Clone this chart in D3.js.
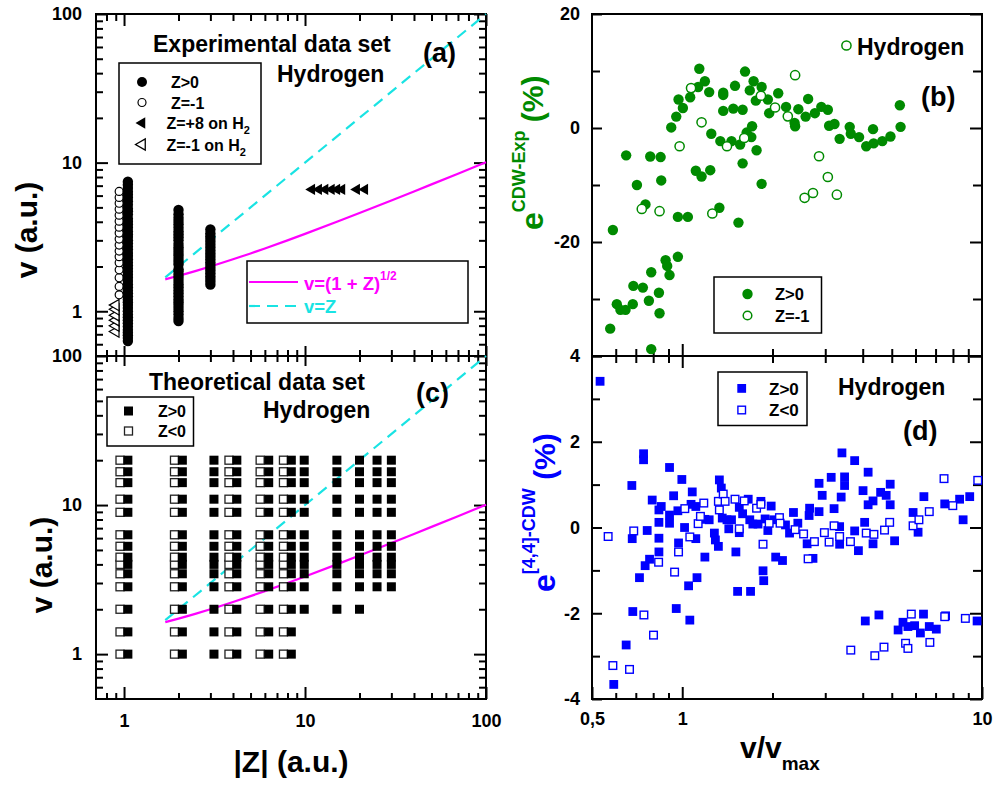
<!DOCTYPE html>
<html><head><meta charset="utf-8">
<script src="https://cdn.jsdelivr.net/npm/d3@7"></script>
<style>
body{margin:0;background:#fff}
svg{display:block}
text{font-family:"Liberation Sans",Arial,Helvetica,sans-serif;font-weight:bold}
</style>
</head><body><script>
// ---------- data ----------
// (a) experimental velocities v (a.u.) for each projectile charge
const expPosZ = [1.05, 2, 3];
const expPosV1 = [0.63,0.66,0.69,0.72,0.75,0.79,0.83,0.87,0.91,0.95,1.0,1.05,1.1,1.15,1.2,1.26,1.32,1.38,1.45,1.52,1.6,1.68,1.76,1.85,1.94,2.03,2.13,2.24,2.35,2.47,2.6,2.73,2.87,3.0,3.16,3.3,3.46,3.65,3.83,4.0,4.2,4.47,4.7,4.9,5.2,5.5,5.8,6.1,6.4,6.75,7.1,7.45];
const expPosV2 = [0.86,0.9,0.95,1.0,1.05,1.1,1.15,1.2,1.26,1.32,1.38,1.45,1.52,1.6,1.68,1.76,1.85,1.92,2.06,2.15,2.25,2.36,2.47,2.58,2.7,2.83,3.0,3.15,3.3,3.46,3.65,3.85,4.05,4.25,4.5,4.8];
const expPosV3 = [1.51,1.58,1.65,1.72,1.8,1.88,1.96,2.05,2.14,2.24,2.34,2.45,2.56,2.68,2.8,2.93,3.06,3.2,3.35,3.55];
const expNegZ = 0.94;
const expNegV = [1.29,1.47,1.68,1.9,2.12,2.33,2.54,2.79,3.06,3.36,3.68,4.04,4.43,4.86,5.33,5.83,6.4];
const h2NegZ = 0.9;
const h2NegV = [0.73,0.8,0.87,0.94,1.03,1.1];
const h2PosZ = [10.9,11.9,12.9,14.0,15.0,16.0,19.3,21.4];
const h2PosV = 6.6;

// reference curves v=(1+Z)^1/2 and v=Z
const curveZ = [1.69,2,2.5,3,4,5,6,8,10,15,20,30,40,50,70,100];
const curveV = [1.64,1.732,1.871,2.0,2.236,2.449,2.646,3.0,3.317,4.0,4.583,5.568,6.403,7.141,8.426,10.05];
const lineZ = [1.69,100];
const lineV = [1.69,100];

// (c) theoretical grid
const thRowsV = [1,1.41,2,2.83,3.46,4,4.47,5.29,6.32,8.94,10.95,14.14,16.73,20];
const thPosZ = [1.05,2.1,3.14,4.2,6.3,8.4,9.9,15,20,25,30];
const thPosMinV = [1,1,1,1,1,1,2,2,2,2.83,2.83];
const thNegZ = [0.95,1.9,3.8,5.65,7.6];

// (b) e^CDW-Exp (%) versus v/vmax
const bPosX = [0.575,0.587,0.605,0.622,0.647,0.650,0.684,0.687,0.706,0.739,0.754,0.774,0.782,0.788,0.788,0.836,0.840,0.847,0.851,0.880,0.891,0.907,0.919,0.955,0.967,0.967,0.972,1.005,1.044,1.063,1.11,1.13,1.14,1.16,1.19,1.23,1.24,1.25,1.33,1.34,1.37,1.37,1.37,1.46,1.48,1.50,1.54,1.56,1.59,1.59,1.62,1.64,1.68,1.70,1.71,1.73,1.76,1.77,1.84,1.84,1.93,1.95,2.09,2.22,2.37,2.38,2.44,2.58,2.63,2.77,2.91,3.06,3.09,3.22,3.35,3.62,3.65,3.89,4.11,4.33,4.35,4.65,4.95,5.32,5.35];
const bPosE = [-35.2,-17.9,-30.9,-31.9,-31.9,-4.8,-30.9,-27.7,-10.0,-28.0,-13.4,-30.3,-5.0,-25.3,-38.8,-28.9,-32.5,-5.1,-9.2,-23.2,-24.2,-25.8,0.1,2.0,-22.6,-15.6,5.0,3.5,-15.6,5.4,-7.5,7.2,10.4,-8.5,8.2,6.3,-7.4,-1.0,-14.0,-2.3,6.2,3.0,5.8,-2.3,3.4,7.4,-16.6,-2.9,3.2,-6.2,9.9,-0.8,6.6,-1.6,0.3,8.2,4.8,-3.9,7.2,-9.8,5.0,2.6,6.1,3.7,0.9,0.3,3.3,2.0,5.1,2.6,3.7,3.2,0.4,0.7,-1.9,0.2,-1.0,-1.6,-3.2,-0.2,-2.7,-2.3,-1.5,4.0,0.2];
const bNegX = [0.733,0.840,0.98,1.07,1.16,1.26,1.41,1.61,1.83,2.04,2.25,2.38,2.56,2.73,2.86,3.06,3.28,3.53];
const bNegE = [-14.2,-14.6,-3.2,7.0,1.0,-15.0,-3.2,-1.75,5.66,3.6,2.04,9.27,-12.25,-11.4,-4.96,-8.6,-11.7,14.47];

// (d) e^[4,4]-CDW (%) versus v/vmax
const dPosX = [0.532,0.591,0.650,0.679,0.681,0.684,0.720,0.743,0.743,0.752,0.764,0.778,0.794,0.836,0.836,0.836,0.836,0.851,0.907,0.907,0.907,0.936,0.955,0.967,0.972,0.997,1.018,1.05,1.06,1.07,1.08,1.11,1.11,1.12,1.19,1.19,1.23,1.28,1.29,1.32,1.33,1.35,1.36,1.41,1.43,1.46,1.51,1.53,1.55,1.55,1.59,1.66,1.68,1.69,1.72,1.79,1.83,1.86,1.87,1.89,1.93,1.98,2.02,2.05,2.16,2.21,2.28,2.35,2.43,2.61,2.65,2.66,2.73,2.86,2.86,2.93,3.14,3.21,3.35,3.41,3.48,3.48,3.39,3.35,3.76,3.76,3.87,4.01,4.06,4.17,4.17,4.33,4.33,4.59,4.79,4.94,4.94,5.11,5.89,6.12,6.40,7.51,8.42,8.65,9.10,4.08,4.53,5.25,5.45,5.66,5.96,6.23,6.38,6.67,7.04,7.56,9.63];
const dPosE = [3.41,-3.66,-2.74,0.98,-0.26,-1.96,-1.17,1.72,1.58,-0.89,-0.07,-0.74,0.64,0.41,0.12,-0.25,-0.57,0.49,1.40,0.29,0.10,0.74,-1.89,0.39,-0.36,1.12,0.0,-1.36,-2.16,0.54,0.83,0.49,-0.26,-1.17,-0.69,0.19,0.18,-0.13,-0.29,-0.44,1.11,0.92,0.22,0.18,-0.03,0.18,-0.57,-1.49,0.47,-0.12,0.32,0.66,0.18,-1.49,0.08,0.08,0.61,-1.01,-1.24,0.2,-0.07,0.5,0.18,-0.69,-0.77,0.06,-0.13,0.35,0.1,-0.38,0.28,0.45,-0.72,1.03,0.37,0.75,1.17,0.44,0.02,1.74,1.18,0.98,0.71,-0.39,1.56,-0.08,-0.54,0.86,0.12,1.29,0.53,0.62,-0.38,0.82,0.75,1.01,0.53,-0.31,0.35,-0.11,0.72,0.55,0.66,0.18,0.72,-2.18,-2.04,-2.39,-2.21,-2.31,-2.29,-2.46,-2.02,-2.31,-2.37,-2.06,-2.18];
const dNegX = [0.566,0.587,0.667,0.689,0.745,0.802,0.834,0.943,0.972,1.02,1.06,1.13,1.15,1.18,1.32,1.33,1.37,1.39,1.50,1.55,1.61,1.77,1.83,1.86,1.95,2.11,2.12,2.38,2.54,2.63,2.76,2.98,3.09,3.21,3.35,3.64,3.65,4.11,4.36,4.39,4.71,4.73,4.92,5.56,5.66,5.81,5.89,6.16,6.67,6.70,7.47,7.51,7.99,8.80,9.68];
const dNegE = [-0.21,-3.22,-3.31,-0.08,-2.04,-2.51,-0.81,-1.04,-0.57,0.44,-0.22,0.09,0.26,0.57,0.61,0.41,0.78,0.61,0.66,-0.03,0.62,0.45,0.54,-0.39,0.1,0.23,0.1,-0.05,-0.15,-0.73,-0.33,-0.12,-0.34,0.04,-0.21,-0.33,-2.86,-0.13,-0.16,-2.99,-2.79,-0.06,0.12,-2.7,-2.82,-2.02,0.04,0.18,0.37,-2.68,1.14,-2.08,0.51,-2.12,1.1];

// axis ticks
const zMajor = [1,10,100], zMinor = [0.8,0.9,2,3,4,5,6,7,8,9,20,30,40,50,60,70,80,90];
const vMajor = [1,10,100], vMinor = [0.6,0.7,0.8,0.9,2,3,4,5,6,7,8,9,20,30,40,50,60,70,80,90];
const rMajor = [0.5,1,10], rMinor = [0.6,0.7,0.8,0.9,2,3,4,5,6,7,8,9];
const rLabels = ["0,5","1","10"];
const eBMajor = [-40,-20,0,20], eBMinor = [-30,-10,10], eBLabels = ["","-20","0","20"];
const eDMajor = [-4,-2,0,2,4], eDMinor = [-3,-1,1,3], eDLabels = ["-4","-2","0","2","4"];

// ---------- drawing ----------
const GREEN = "#008a00", BLUE = "#0000ff", MAG = "#ff00ff", CYAN = "#19e3e3";
const svg = d3.select("body").append("svg").attr("width", 995).attr("height", 787);

const xZ = d3.scaleLog().domain([0.7, 100]).range([96, 486]);
const yA = d3.scaleLog().domain([0.5, 100]).range([356, 14]);
const yC = d3.scaleLog().domain([0.5, 100]).range([699, 356]);
const xR = d3.scaleLog().domain([0.5, 10]).range([592, 982]);
const yB = d3.scaleLinear().domain([-40, 20]).range([356, 14]);
const yD = d3.scaleLinear().domain([-4, 4]).range([699, 356]);

function ticks(gen, scale, pos, vals, size, opts = {}) {
  const g = svg.append("g").attr("transform", pos);
  const ax = gen(scale).tickValues(vals).tickSizeOuter(0).tickSizeInner(size)
    .tickPadding(opts.pad || 0)
    .tickFormat(opts.labels ? (d, i) => opts.labels[i] : () => "");
  g.call(ax);
  g.select(".domain").remove();
  g.selectAll(".tick line").attr("stroke", "#000").attr("stroke-width", 2);
  if (opts.cross) {
    const horiz = (gen === d3.axisBottom || gen === d3.axisTop);
    g.selectAll(".tick line").attr(horiz ? "y1" : "x1", -size).attr(horiz ? "y2" : "x2", size);
  }
  g.selectAll(".tick text").attr("fill", "#000").style("font-size", "18px")
    .style("font-family", '"Liberation Sans",Arial,sans-serif').style("font-weight", "bold");
  return g;
}

// ---- panel frames ----
function frame(x0, x1, y0, y1) {
  svg.append("rect").attr("x", x0).attr("y", y0).attr("width", x1 - x0).attr("height", y1 - y0)
    .attr("fill", "none").attr("stroke", "#000").attr("stroke-width", 2);
}

// ---- panel (a) and (c) axes ----
ticks(d3.axisLeft, yA, "translate(96,0)", vMajor, -12, {labels: ["1","10","100"], pad: 14});
ticks(d3.axisLeft, yA, "translate(96,0)", vMinor, -7);
ticks(d3.axisRight, yA, "translate(486,0)", vMajor, -12);
ticks(d3.axisRight, yA, "translate(486,0)", vMinor, -7);
ticks(d3.axisTop, xZ, "translate(0,14)", zMajor, -12);
ticks(d3.axisTop, xZ, "translate(0,14)", zMinor, -7);
ticks(d3.axisBottom, xZ, "translate(0,356)", zMajor, 10, {cross: true});
ticks(d3.axisBottom, xZ, "translate(0,356)", zMinor, 6, {cross: true});
ticks(d3.axisLeft, yC, "translate(96,0)", vMajor, -12, {labels: ["1","10","100"], pad: 14});
ticks(d3.axisLeft, yC, "translate(96,0)", vMinor, -7);
ticks(d3.axisRight, yC, "translate(486,0)", vMajor, -12);
ticks(d3.axisRight, yC, "translate(486,0)", vMinor, -7);
ticks(d3.axisBottom, xZ, "translate(0,699)", zMajor, -12, {labels: ["1","10","100"], pad: 15});
ticks(d3.axisBottom, xZ, "translate(0,699)", zMinor, -6);

// ---- panel (b) and (d) axes ----
ticks(d3.axisLeft, yB, "translate(592,0)", eBMajor, -10, {labels: eBLabels, pad: 12});
ticks(d3.axisLeft, yB, "translate(592,0)", eBMinor, -8);
ticks(d3.axisRight, yB, "translate(982,0)", eBMajor, -12);
ticks(d3.axisRight, yB, "translate(982,0)", eBMinor, -9);
ticks(d3.axisBottom, xR, "translate(0,356)", [1], 12, {cross: true});
ticks(d3.axisBottom, xR, "translate(0,356)", rMinor, 7, {cross: true});
ticks(d3.axisLeft, yD, "translate(592,0)", eDMajor, -10, {labels: eDLabels, pad: 12});
ticks(d3.axisLeft, yD, "translate(592,0)", eDMinor, -8);
ticks(d3.axisRight, yD, "translate(982,0)", eDMajor, -12);
ticks(d3.axisRight, yD, "translate(982,0)", eDMinor, -9);
ticks(d3.axisBottom, xR, "translate(0,699)", rMajor, -12, {labels: rLabels, pad: 13});
ticks(d3.axisBottom, xR, "translate(0,699)", rMinor, -6);

frame(96, 486, 14, 356);
frame(96, 486, 356, 699);
frame(592, 982, 14, 356);
frame(592, 982, 356, 699);

// ---- reference curves in (a) and (c) ----
function curves(yS) {
  const lineS = d3.line().x((d, i) => xZ(lineZ[i])).y((d, i) => yS(lineV[i]));
  svg.append("path").attr("d", lineS(lineZ)).attr("fill", "none").attr("stroke", CYAN)
    .attr("stroke-width", 2.2).attr("stroke-dasharray", "11,7");
  const curveS = d3.line().x((d, i) => xZ(curveZ[i])).y((d, i) => yS(curveV[i])).curve(d3.curveMonotoneX);
  svg.append("path").attr("d", curveS(curveZ)).attr("fill", "none").attr("stroke", MAG).attr("stroke-width", 2.2);
}

// ---- panel (a) marks ----
curves(yA);
const triLeft = d3.symbol().type(d3.symbolTriangle).size(55);
svg.append("g").selectAll("path").data(h2NegV).join("path")
  .attr("d", triLeft).attr("transform", d => `translate(${xZ(h2NegZ)},${yA(d)}) rotate(-90)`)
  .attr("fill", "#fff").attr("stroke", "#000").attr("stroke-width", 1.2);
svg.append("g").selectAll("circle").data(expNegV).join("circle")
  .attr("cx", xZ(expNegZ)).attr("cy", d => yA(d)).attr("r", 4)
  .attr("fill", "#fff").attr("stroke", "#000").attr("stroke-width", 1.2);
[expPosV1, expPosV2, expPosV3].forEach((vs, k) => {
  svg.append("g").selectAll("circle").data(vs).join("circle")
    .attr("cx", xZ(expPosZ[k])).attr("cy", d => yA(d)).attr("r", 5.2).attr("fill", "#000");
});
svg.append("g").selectAll("path").data(h2PosZ).join("path")
  .attr("d", triLeft).attr("transform", d => `translate(${xZ(d)},${yA(h2PosV)}) rotate(-90)`)
  .attr("fill", "#000");

// titles (a)
function label(x, y, txt, size, color, anchor) {
  return svg.append("text").attr("x", x).attr("y", y).attr("text-anchor", anchor || "start")
    .attr("fill", color || "#000").style("font-size", size + "px").text(txt);
}
label(153, 52, "Experimental data set", 23);
label(277, 82, "Hydrogen", 23);
label(423, 62, "(a)", 27);

// legend (a) symbols
svg.append("rect").attr("x", 119).attr("y", 63).attr("width", 142).attr("height", 101)
  .attr("fill", "#fff").attr("stroke", "#000").attr("stroke-width", 1.5);
svg.append("circle").attr("cx", 142).attr("cy", 82).attr("r", 5).attr("fill", "#000");
svg.append("circle").attr("cx", 142).attr("cy", 102.5).attr("r", 4).attr("fill", "#fff").attr("stroke", "#000").attr("stroke-width", 1.2);
svg.append("path").attr("d", triLeft).attr("transform", "translate(142,123) rotate(-90)").attr("fill", "#000");
svg.append("path").attr("d", triLeft).attr("transform", "translate(142,144.5) rotate(-90)").attr("fill", "#fff").attr("stroke", "#000").attr("stroke-width", 1.3);
label(171, 88, "Z>0", 16);
label(171, 108.5, "Z=-1", 16);
const t3 = label(166.5, 129, "Z=+8 on H", 16);
t3.append("tspan").attr("dy", 5).style("font-size", "11px").text("2");
const t4 = label(166.5, 150.5, "Z=-1 on H", 16);
t4.append("tspan").attr("dy", 5).style("font-size", "11px").text("2");

// legend (a) lines
svg.append("rect").attr("x", 247).attr("y", 261).attr("width", 221).attr("height", 62)
  .attr("fill", "#fff").attr("stroke", "#000").attr("stroke-width", 1.5);
svg.append("line").attr("x1", 249).attr("x2", 298).attr("y1", 282).attr("y2", 282).attr("stroke", MAG).attr("stroke-width", 2.2);
svg.append("line").attr("x1", 249).attr("x2", 298).attr("y1", 306).attr("y2", 306).attr("stroke", CYAN).attr("stroke-width", 2.2).attr("stroke-dasharray", "11,7");
const tm = label(304, 290, "v=(1 + Z)", 18.5, MAG);
tm.append("tspan").attr("dy", -10).style("font-size", "12px").text("1/2");
label(304, 312.5, "v=Z", 18.5, CYAN);

// ---- panel (c) marks ----
curves(yC);
const sq = 9;
thNegZ.forEach(z => {
  svg.append("g").selectAll("rect").data(thRowsV).join("rect")
    .attr("x", xZ(z) - 4).attr("y", d => yC(d) - 4).attr("width", 8).attr("height", 8)
    .attr("fill", "#fff").attr("stroke", "#222").attr("stroke-width", 1.3);
});
thPosZ.forEach((z, k) => {
  svg.append("g").selectAll("rect").data(thRowsV.filter(v => v >= thPosMinV[k])).join("rect")
    .attr("x", xZ(z) - sq / 2).attr("y", d => yC(d) - sq / 2).attr("width", sq).attr("height", sq)
    .attr("fill", "#000");
});
label(149, 390, "Theoretical data set", 23);
label(263, 418, "Hydrogen", 23);
label(416, 402, "(c)", 27);
svg.append("rect").attr("x", 107).attr("y", 397).attr("width", 86.5).attr("height", 49)
  .attr("fill", "#fff").attr("stroke", "#000").attr("stroke-width", 1.5);
svg.append("rect").attr("x", 124).attr("y", 406.5).attr("width", 9).attr("height", 9).attr("fill", "#000");
svg.append("rect").attr("x", 124.5).attr("y", 427).attr("width", 8).attr("height", 8).attr("fill", "#fff").attr("stroke", "#222").attr("stroke-width", 1.3);
label(158, 417, "Z>0", 16);
label(158, 437, "Z<0", 16);

// ---- panel (b) marks ----
svg.append("g").selectAll("circle").data(bPosX).join("circle")
  .attr("cx", d => xR(d)).attr("cy", (d, i) => yB(bPosE[i])).attr("r", 5.2).attr("fill", GREEN);
svg.append("g").selectAll("circle").data(bNegX).join("circle")
  .attr("cx", d => xR(d)).attr("cy", (d, i) => yB(bNegE[i])).attr("r", 4.6)
  .attr("fill", "#fff").attr("stroke", GREEN).attr("stroke-width", 1.5);
label(857, 55, "Hydrogen", 23);
label(921, 106, "(b)", 27);
svg.append("rect").attr("x", 714).attr("y", 277).attr("width", 107.5).attr("height", 56)
  .attr("fill", "#fff").attr("stroke", "#000").attr("stroke-width", 1.5);
svg.append("circle").attr("cx", 747.5).attr("cy", 294).attr("r", 5.2).attr("fill", GREEN);
svg.append("circle").attr("cx", 747.5).attr("cy", 315.5).attr("r", 4.3).attr("fill", "#fff").attr("stroke", GREEN).attr("stroke-width", 1.5);
label(775, 300, "Z>0", 16.5);
label(775, 321.5, "Z=-1", 16.5);

// ---- panel (d) marks ----
svg.append("g").selectAll("rect").data(dPosX).join("rect")
  .attr("x", d => xR(d) - 4.4).attr("y", (d, i) => yD(dPosE[i]) - 4.4).attr("width", 8.8).attr("height", 8.8)
  .attr("fill", BLUE);
svg.append("g").selectAll("rect").data(dNegX).join("rect")
  .attr("x", d => xR(d) - 3.8).attr("y", (d, i) => yD(dNegE[i]) - 3.8).attr("width", 7.6).attr("height", 7.6)
  .attr("fill", "#fff").attr("stroke", BLUE).attr("stroke-width", 1.4);
label(838, 395, "Hydrogen", 23);
label(903, 440, "(d)", 27);
svg.append("rect").attr("x", 718).attr("y", 372).attr("width", 89).attr("height", 53.5)
  .attr("fill", "#fff").attr("stroke", "#000").attr("stroke-width", 1.5);
svg.append("rect").attr("x", 737.3).attr("y", 384).attr("width", 8.8).attr("height", 8.8).attr("fill", BLUE);
svg.append("rect").attr("x", 737.9).attr("y", 406.2).attr("width", 7.6).attr("height", 7.6).attr("fill", "#fff").attr("stroke", BLUE).attr("stroke-width", 1.4);
label(769, 394.5, "Z>0", 17);
label(769, 416, "Z<0", 17);

// ---- axis titles ----
svg.append("text").attr("transform", "translate(37,230) rotate(-90)").attr("text-anchor", "middle")
  .style("font-size", "30px").text("v (a.u.)");
svg.append("text").attr("transform", "translate(52,565) rotate(-90)").attr("text-anchor", "middle")
  .style("font-size", "30px").text("v (a.u.)");
label(291, 772, "|Z| (a.u.)", 30, "#000", "middle");
const xl = label(740, 758, "v/v", 30);
xl.append("tspan").attr("dy", 12).style("font-size", "19px").text("max");

const yb = svg.append("text").attr("transform", "translate(543,230) rotate(-90)").attr("fill", GREEN);
yb.append("tspan").style("font-size", "32px").text("e");
yb.append("tspan").attr("dy", -18).style("font-size", "18px").text("CDW-Exp");
yb.append("tspan").attr("dy", 18).style("font-size", "30px").text(" (%)");

const yd = svg.append("text").attr("transform", "translate(555,592) rotate(-90)").attr("fill", BLUE);
yd.append("tspan").style("font-size", "32px").text("e");
yd.append("tspan").attr("dy", -20).style("font-size", "18px").text("[4,4]-CDW");
yd.append("tspan").attr("dy", 20).style("font-size", "30px").text(" (%)");
</script></body></html>
